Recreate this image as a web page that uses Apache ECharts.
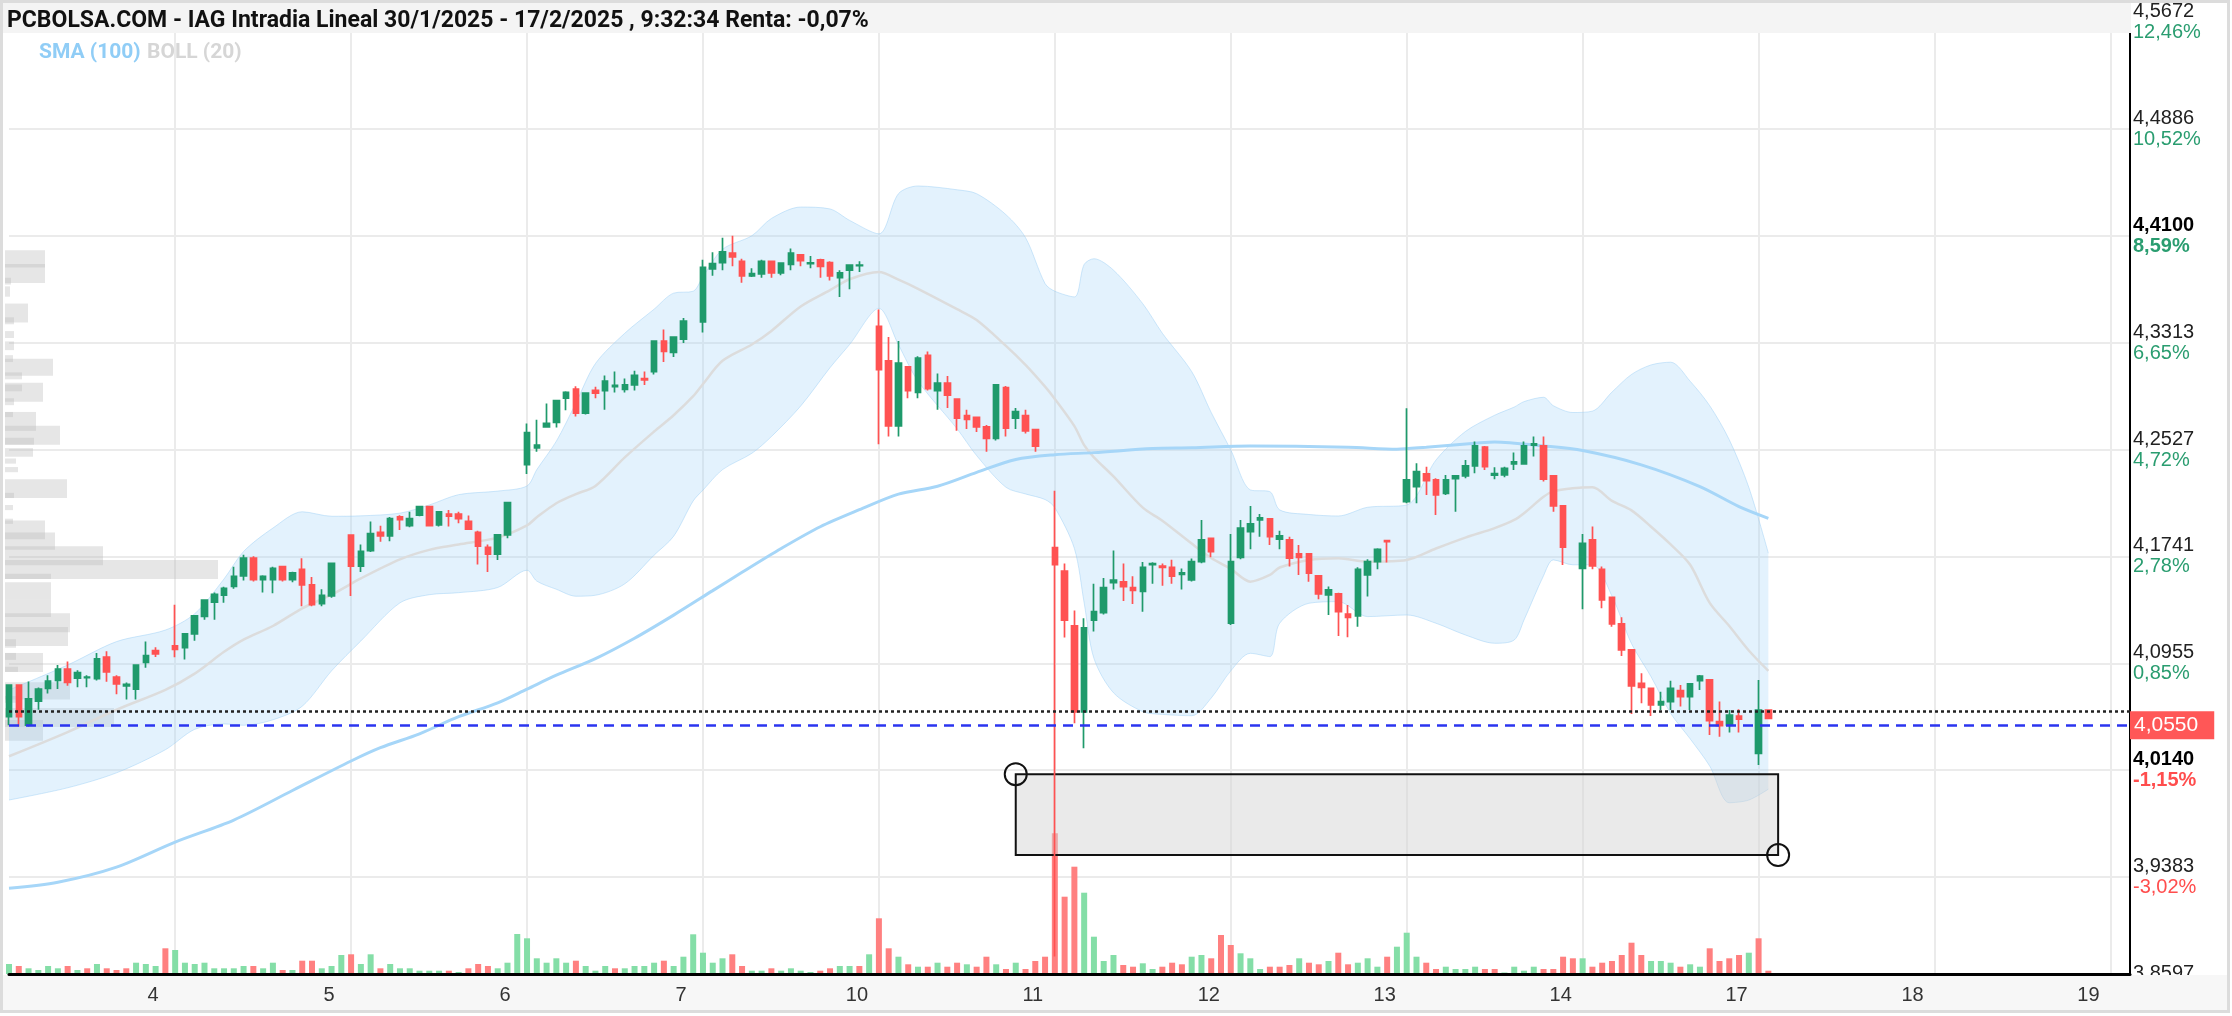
<!DOCTYPE html>
<html>
<head>
<meta charset="utf-8">
<title>IAG Intradia</title>
<script src="https://cdn.jsdelivr.net/npm/echarts@6/dist/echarts.min.js"></script>
<style>
html, body { margin: 0; padding: 0; background: #fff; }
#chart { width: 2232px; height: 1016px; }
</style>
</head>
<body>
<div id="chart"></div>
<script>
// sesiones (el dia 3 se ve desde las 9:30, el resto de 9:00 a 17:30, velas de 30 min)
const days = ['3', '4', '5', '6', '7', '10', '11', '12', '13', '14', '17', '18', '19'];
const slotsPerDay = 18;
const slotCount = 218;

// velas [apertura, maximo, minimo, cierre]; null = subasta de cierre sin rango visible
const s03 = [
  [4.0563, 4.0800, 4.0500, 4.0796], [4.0796, 4.0800, 4.0490, 4.0563], [4.0500, 4.0822, 4.0490, 4.0695],
  [4.0677, 4.0778, 4.0614, 4.0766], [4.0771, 4.0867, 4.0733, 4.0824], [4.0829, 4.0943, 4.0766, 4.0913],
  [4.0913, 4.0968, 4.0790, 4.0816], [4.0847, 4.0905, 4.0780, 4.0887], [4.0850, 4.0867, 4.0780, 4.0855],
  [4.0842, 4.1032, 4.0830, 4.0989], [4.1001, 4.1044, 4.0820, 4.0892], [4.0855, 4.0867, 4.0728, 4.0804],
  [4.0790, 4.0815, 4.0690, 4.0800], [4.0766, 4.0943, 4.0690, 4.0943], [4.0963, 4.1115, 4.0923, 4.1013],
  [4.1049, 4.1074, 4.1001, 4.1024], null
];
const s04 = [
  [4.1083, 4.1387, 4.1000, 4.1058], [4.1071, 4.1172, 4.0983, 4.1172], [4.1172, 4.1304, 4.1121, 4.1304],
  [4.1301, 4.1425, 4.1276, 4.1420], [4.1405, 4.1476, 4.1276, 4.1463], [4.1456, 4.1519, 4.1400, 4.1506],
  [4.1522, 4.1666, 4.1504, 4.1595], [4.1598, 4.1754, 4.1565, 4.1729], [4.1729, 4.1742, 4.1557, 4.1570],
  [4.1570, 4.1603, 4.1476, 4.1595], [4.1570, 4.1666, 4.1471, 4.1653], [4.1666, 4.1670, 4.1557, 4.1570],
  [4.1570, 4.1628, 4.1552, 4.1620], [4.1646, 4.1729, 4.1375, 4.1532], [4.1532, 4.1590, 4.1375, 4.1387],
  [4.1395, 4.1501, 4.1375, 4.1456], [4.1451, 4.1691, 4.1438, 4.1691], null
];
const s05 = [
  [4.1898, 4.1901, 4.1450, 4.1670], [4.1670, 4.1830, 4.1627, 4.1779], [4.1784, 4.1999, 4.1774, 4.1910],
  [4.1918, 4.1968, 4.1849, 4.1893], [4.1893, 4.2032, 4.1854, 4.2019], [4.2032, 4.2045, 4.1936, 4.2012],
  [4.1968, 4.2070, 4.1956, 4.2019], [4.2045, 4.2113, 4.2037, 4.2108], [4.2108, 4.2113, 4.1961, 4.1968],
  [4.1973, 4.2075, 4.1961, 4.2070], [4.2052, 4.2083, 4.1961, 4.2037], [4.2052, 4.2070, 4.1986, 4.2019],
  [4.1999, 4.2042, 4.1936, 4.1943], [4.1918, 4.1930, 4.1682, 4.1817], [4.1809, 4.1830, 4.1627, 4.1758],
  [4.1758, 4.1905, 4.1716, 4.1900], [4.1900, 4.2138, 4.1875, 4.2138], null
];
const s06 = [
  [4.2417, 4.2720, 4.2348, 4.2652], [4.2540, 4.2746, 4.2512, 4.2560], [4.2695, 4.2867, 4.2695, 4.2720],
  [4.2728, 4.2892, 4.2690, 4.2887], [4.2905, 4.2956, 4.2817, 4.2948], [4.2973, 4.2994, 4.2771, 4.2796],
  [4.2796, 4.2948, 4.2786, 4.2943], [4.2963, 4.2989, 4.2905, 4.2943], [4.2961, 4.3073, 4.2820, 4.3031],
  [4.2990, 4.3101, 4.2947, 4.3000], [4.2970, 4.3051, 4.2947, 4.3003], [4.3003, 4.3107, 4.2961, 4.3073],
  [4.3050, 4.3101, 4.3003, 4.3040], [4.3101, 4.3332, 4.3079, 4.3326], [4.3326, 4.3411, 4.3172, 4.3250],
  [4.3242, 4.3360, 4.3208, 4.3354], [4.3340, 4.3495, 4.3312, 4.3473], null
];
const s07 = [
  [4.3467, 4.3923, 4.3388, 4.3867], [4.3856, 4.3979, 4.3805, 4.3895], [4.3903, 4.4086, 4.3847, 4.3982],
  [4.3973, 4.4100, 4.3875, 4.3945], [4.3912, 4.3931, 4.3754, 4.3805], [4.3805, 4.3861, 4.3796, 4.3822],
  [4.3819, 4.3923, 4.3791, 4.3912], [4.3912, 4.3912, 4.3791, 4.3827], [4.3827, 4.3903, 4.3810, 4.3898],
  [4.3889, 4.4007, 4.3847, 4.3973], [4.3959, 4.3965, 4.3875, 4.3917], [4.3895, 4.3951, 4.3861, 4.3900],
  [4.3923, 4.3931, 4.3791, 4.3875], [4.3903, 4.3912, 4.3771, 4.3805], [4.3791, 4.3847, 4.3650, 4.3827],
  [4.3847, 4.3889, 4.3706, 4.3884], [4.3880, 4.3912, 4.3833, 4.3885], null
];
const s10 = [
  [4.3433, 4.3557, 4.2567, 4.3115], [4.3180, 4.3355, 4.2623, 4.2702], [4.2702, 4.3326, 4.2623, 4.3163],
  [4.3135, 4.3135, 4.2905, 4.2961], [4.2947, 4.3214, 4.2905, 4.3200], [4.3220, 4.3248, 4.2961, 4.2975],
  [4.2961, 4.3087, 4.2820, 4.3017], [4.3017, 4.3068, 4.2834, 4.2927], [4.2899, 4.2899, 4.2665, 4.2758],
  [4.2778, 4.2820, 4.2679, 4.2750], [4.2764, 4.2764, 4.2657, 4.2694], [4.2694, 4.2708, 4.2511, 4.2609],
  [4.2609, 4.3003, 4.2595, 4.3003], [4.2983, 4.2995, 4.2623, 4.2685], [4.2758, 4.2834, 4.2679, 4.2806],
  [4.2778, 4.2820, 4.2646, 4.2665], [4.2674, 4.2679, 4.2511, 4.2553], null
];
const s11 = [
  [4.1807, 4.2224, 3.8800, 4.1681], [4.1633, 4.1689, 4.1146, 4.1273], [4.1231, 4.1343, 4.0514, 4.0598],
  [4.0598, 4.1287, 4.0331, 4.1217], [4.1273, 4.1540, 4.1189, 4.1335], [4.1329, 4.1582, 4.1315, 4.1512],
  [4.1549, 4.1785, 4.1498, 4.1568], [4.1554, 4.1689, 4.1414, 4.1520], [4.1512, 4.1596, 4.1391, 4.1492],
  [4.1484, 4.1700, 4.1335, 4.1661], [4.1681, 4.1698, 4.1540, 4.1689], [4.1670, 4.1689, 4.1526, 4.1660],
  [4.1661, 4.1717, 4.1540, 4.1596], [4.1610, 4.1652, 4.1498, 4.1620], [4.1569, 4.1727, 4.1557, 4.1703],
  [4.1703, 4.2010, 4.1691, 4.1863], [4.1875, 4.1875, 4.1735, 4.1777], null
];
const s12 = [
  [4.1250, 4.1907, 4.1237, 4.1703], [4.1735, 4.2010, 4.1721, 4.1949], [4.1924, 4.2113, 4.1794, 4.1981],
  [4.2010, 4.2054, 4.1887, 4.2025], [4.2018, 4.2020, 4.1826, 4.1887], [4.1868, 4.1931, 4.1794, 4.1892],
  [4.1863, 4.1887, 4.1667, 4.1728], [4.1760, 4.1826, 4.1605, 4.1735], [4.1760, 4.1765, 4.1556, 4.1618],
  [4.1598, 4.1598, 4.1426, 4.1466], [4.1458, 4.1520, 4.1311, 4.1495], [4.1466, 4.1475, 4.1157, 4.1336],
  [4.1318, 4.1385, 4.1147, 4.1294], [4.1304, 4.1662, 4.1225, 4.1647], [4.1605, 4.1721, 4.1446, 4.1703],
  [4.1703, 4.1801, 4.1647, 4.1794], [4.1858, 4.1863, 4.1696, 4.1850], null
];
const s13 = [
  [4.2145, 4.2831, 4.2133, 4.2304], [4.2255, 4.2427, 4.2133, 4.2365], [4.2348, 4.2402, 4.2194, 4.2299],
  [4.2304, 4.2316, 4.2047, 4.2194], [4.2206, 4.2341, 4.2194, 4.2304], [4.2314, 4.2341, 4.2071, 4.2334],
  [4.2334, 4.2451, 4.2316, 4.2407], [4.2407, 4.2586, 4.2353, 4.2554], [4.2545, 4.2554, 4.2378, 4.2402],
  [4.2340, 4.2397, 4.2309, 4.2350], [4.2341, 4.2402, 4.2324, 4.2390], [4.2422, 4.2505, 4.2378, 4.2437],
  [4.2422, 4.2586, 4.2415, 4.2554], [4.2560, 4.2623, 4.2476, 4.2570], [4.2554, 4.2623, 4.2292, 4.2309],
  [4.2334, 4.2334, 4.2071, 4.2113], [4.2113, 4.2113, 4.1679, 4.1809], null
];
const s14 = [
  [4.1654, 4.1907, 4.1353, 4.1838], [4.1863, 4.1961, 4.1647, 4.1672], [4.1647, 4.1667, 4.1360, 4.1421],
  [4.1441, 4.1441, 4.1225, 4.1245], [4.1245, 4.1294, 4.1009, 4.1054], [4.1054, 4.1059, 4.0583, 4.0789],
  [4.0808, 4.0882, 4.0661, 4.0779], [4.0772, 4.0772, 4.0568, 4.0649], [4.0649, 4.0747, 4.0612, 4.0674],
  [4.0674, 4.0828, 4.0612, 4.0772], [4.0755, 4.0796, 4.0637, 4.0710], [4.0710, 4.0808, 4.0612, 4.0804],
  [4.0828, 4.0870, 4.0759, 4.0862], [4.0833, 4.0833, 4.0428, 4.0534], [4.0526, 4.0674, 4.0416, 4.0497],
  [4.0502, 4.0612, 4.0446, 4.0575], [4.0568, 4.0617, 4.0446, 4.0544], null
];
const s17 = [
  [4.0293, 4.0833, 4.0208, 4.0612], [4.0612, 4.0612, 4.0545, 4.0550]
];

// volumen (miles de titulos) por vela
const volumes = [
  100, 80, 57, 40, 80, 57, 80, 40, 57, 100, 57, 40, 57, 113, 100, 80, 257,
  240, 113, 100, 113, 57, 57, 57, 80, 80, 57, 113, 40, 40, 133, 133, 57, 80, 190,
  197, 100, 197, 57, 100, 57, 57, 33, 33, 33, 33, 20, 57, 100, 80, 57, 113, 400,
  357, 157, 113, 157, 113, 133, 80, 33, 80, 57, 57, 80, 80, 113, 133, 80, 173, 397,
  213, 113, 157, 197, 80, 33, 33, 57, 33, 57, 33, 20, 33, 57, 80, 80, 80, 197,
  557, 257, 173, 97, 73, 73, 113, 73, 113, 97, 73, 173, 97, 50, 113, 50, 130, 173,
  1407, 773, 1073, 813, 373, 130, 190, 90, 73, 107, 50, 73, 113, 97, 173, 190, 157, 390,
  290, 207, 157, 50, 73, 73, 90, 157, 113, 97, 130, 213, 97, 113, 157, 73, 173, 273,
  413, 173, 113, 50, 73, 50, 50, 73, 50, 50, 15, 73, 33, 73, 50, 50, 173, 157,
  157, 73, 113, 130, 190, 313, 190, 130, 130, 113, 73, 97, 73, 257, 130, 157, 190, 213,
  357, 33
];
// color del volumen: u = sube, d = baja
const volDir = (
  'u d u u u u d u d u d d d u u u d ' +
  'u u u u u u u u d u u d u d d u u u ' +
  'd u u d u u u u u u d u d d d u u u ' +
  'u u u u u d u u u d u u u u d u u u ' +
  'u u u d d u u d u u u u d d u u d u ' +
  'd d u d u d u d d u d d u d u d d d ' +
  'd d d u u u u d d u u d d d u u d d ' +
  'd u u u d d d u d d u d d u u u d u ' +
  'u u d d u u u u d d u u u u d d d d ' +
  'u d d d d d d u u u d u u d d d d u ' +
  'd d'
).split(' ');

const prevClose = 4.0580;
const lastPrice = 4.0550;

// eje de precios
const tickMin = 3.8597;
const tickMax = 4.5672;
const priceTicks = ['3,8597', '3,9383', '4,0140', '4,0955', '4,1741', '4,2527', '4,3313', '4,4100', '4,4886', '4,5672'];
const pctTicks = ['-4,96%', '-3,02%', '-1,15%', '0,85%', '2,78%', '4,72%', '6,65%', '8,59%', '10,52%', '12,46%'];
const boldTicks = [2, 7];

// Bollinger (20)
const bollIdx = [0, 6, 11, 16, 19, 22, 24, 27, 30, 33, 36, 40, 43, 46, 50, 53, 54, 56, 58, 60,
  63, 66, 68, 70, 71, 73, 76, 78, 81, 84, 86, 89, 91, 93, 97, 99, 102, 104, 106, 107,
  109, 110, 111, 113, 116, 118, 121, 123, 125, 127, 129, 130, 133, 136, 139, 143, 146, 149, 152, 154,
  155, 157, 158, 160, 162, 164, 166, 168, 170, 172, 174, 176, 178, 180];
const bollUpper = [4.0759, 4.0943, 4.1115, 4.1200, 4.1320, 4.1576, 4.1778, 4.1950, 4.2070, 4.2037,
  4.2040, 4.2060, 4.2120, 4.2196, 4.2222, 4.2260, 4.2380, 4.2589, 4.2870, 4.3160,
  4.3383, 4.3560, 4.3678, 4.3692, 4.3800, 4.4000, 4.4100, 4.4227, 4.4311, 4.4297,
  4.4213, 4.4114, 4.4409, 4.4466, 4.4438, 4.4409, 4.4255, 4.4086, 4.3748, 4.3692,
  4.3650, 4.3889, 4.3931, 4.3847, 4.3600, 4.3383, 4.3101, 4.2800, 4.2525, 4.2231,
  4.2218, 4.2084, 4.2050, 4.2039, 4.2103, 4.2120, 4.2451, 4.2660, 4.2780, 4.2840,
  4.2880, 4.2912, 4.2850, 4.2800, 4.2810, 4.2950, 4.3080, 4.3150, 4.3170, 4.3030,
  4.2850, 4.2600, 4.2250, 4.1765];
const bollMid = [4.0272, 4.0450, 4.0614, 4.0760, 4.0880, 4.1040, 4.1130, 4.1230, 4.1360, 4.1460,
  4.1580, 4.1720, 4.1790, 4.1829, 4.1880, 4.1970, 4.2030, 4.2133, 4.2200, 4.2260,
  4.2470, 4.2660, 4.2780, 4.2920, 4.3010, 4.3180, 4.3300, 4.3400, 4.3580, 4.3700,
  4.3780, 4.3833, 4.3777, 4.3710, 4.3560, 4.3480, 4.3290, 4.3150, 4.2990, 4.2900,
  4.2700, 4.2560, 4.2470, 4.2330, 4.2100, 4.2004, 4.1836, 4.1730, 4.1650, 4.1556,
  4.1605, 4.1660, 4.1716, 4.1728, 4.1703, 4.1716, 4.1800, 4.1880, 4.1950, 4.2010,
  4.2059, 4.2180, 4.2220, 4.2243, 4.2250, 4.2150, 4.2080, 4.1960, 4.1830, 4.1680,
  4.1400, 4.1230, 4.1050, 4.0900];
const bollLower = [3.9950, 4.0040, 4.0150, 4.0320, 4.0470, 4.0510, 4.0500, 4.0540, 4.0640, 4.0900,
  4.1120, 4.1400, 4.1460, 4.1475, 4.1513, 4.1640, 4.1560, 4.1500, 4.1449, 4.1456,
  4.1540, 4.1751, 4.1890, 4.2150, 4.2229, 4.2380, 4.2500, 4.2623, 4.2848, 4.3130,
  4.3300, 4.3566, 4.3298, 4.3031, 4.2680, 4.2483, 4.2250, 4.2201, 4.2160, 4.2100,
  4.1800, 4.1400, 4.0992, 4.0739, 4.0600, 4.0580, 4.0570, 4.0700, 4.0900, 4.1029,
  4.1005, 4.1250, 4.1397, 4.1409, 4.1299, 4.1311, 4.1250, 4.1164, 4.1103, 4.1127,
  4.1274, 4.1600, 4.1716, 4.1680, 4.1680, 4.1450, 4.1100, 4.0857, 4.0588, 4.0400,
  4.0200, 3.9930, 3.9950, 4.0030];

// SMA (100)
const smaIdx = [0, 5, 11, 17, 23, 29, 35, 38, 42, 46, 50, 53, 56, 60, 64, 68, 72, 75, 79, 83,
  87, 91, 95, 99, 103, 107, 111, 117, 121, 127, 137, 142, 145, 150, 152, 157, 161, 167, 173, 177, 180];
const smaVal = [3.9302, 3.9346, 3.9457, 3.9641, 3.9803, 4.0020, 4.0237, 4.0335, 4.0437, 4.0563,
  4.0665, 4.0766, 4.0868, 4.0990, 4.1140, 4.1310, 4.1490, 4.1625, 4.1800, 4.1960,
  4.2085, 4.2200, 4.2258, 4.2360, 4.2455, 4.2490, 4.2505, 4.2535, 4.2540, 4.2554,
  4.2545, 4.2530, 4.2545, 4.2574, 4.2584, 4.2554, 4.2520, 4.2415, 4.2255, 4.2108, 4.2022];

// perfil de volumen por precio: [precio bajo, precio alto, volumen]
const profile = [
  [4.3867, 4.3994, 40], [4.3753, 4.3892, 40], [4.3741, 4.3791, 6], [4.3652, 4.3728, 5],
  [4.3462, 4.3601, 23], [4.3449, 4.3500, 9], [4.3348, 4.3399, 9], [4.3259, 4.3323, 9],
  [4.3171, 4.3222, 8], [4.3070, 4.3196, 48], [4.3044, 4.3095, 17], [4.2956, 4.3006, 17],
  [4.2880, 4.3019, 38], [4.2854, 4.2905, 9], [4.2766, 4.2804, 8], [4.2665, 4.2804, 31],
  [4.2563, 4.2703, 55], [4.2563, 4.2614, 29], [4.2475, 4.2538, 28], [4.2424, 4.2462, 11],
  [4.2361, 4.2399, 13], [4.2171, 4.2310, 62], [4.2171, 4.2209, 9], [4.2082, 4.2120, 8],
  [4.1981, 4.2019, 8], [4.1867, 4.2006, 40], [4.1791, 4.1918, 50], [4.1677, 4.1816, 98],
  [4.1576, 4.1715, 213], [4.1576, 4.1614, 46], [4.1424, 4.1551, 46], [4.1297, 4.1424, 46],
  [4.1184, 4.1323, 65], [4.1082, 4.1222, 63], [4.1070, 4.1133, 11], [4.0981, 4.1032, 11],
  [4.0892, 4.1032, 38], [4.0892, 4.0930, 13], [4.0690, 4.0816, 65], [4.0665, 4.0715, 13],
  [4.0487, 4.0627, 109], [4.0386, 4.0538, 38]
];

// zona dibujada: [vela inicio, precio arriba, vela fin, precio abajo]
const zone = [103, 4.0140, 181, 3.9545];

const upColor = '#1f9a6b';
const downColor = '#ff5252';

const categories = [];
days.forEach((d, di) => {
  for (let s = di === 0 ? 1 : 0; s < slotsPerDay; s++) {
    const m = 9 * 60 + s * 30;
    categories.push(d + ' ' + String(Math.floor(m / 60)).padStart(2, '0') + ':' + String(m % 60).padStart(2, '0'));
  }
});
categories.length = slotCount;

const isDayStart = (i) => i >= 17 && (i - 17) % slotsPerDay === 0;

const candles = [].concat(s03, s04, s05, s06, s07, s10, s11, s12, s13, s14, s17);
const candleData = candles.map(c => c ? [c[0], c[3], c[2], c[1]] : '-');
const volData = volumes.map((v, i) => ({
  value: v,
  itemStyle: { color: volDir[i] === 'u' ? '#84dea7' : '#ff8080' }
}));

const tickStep = (tickMax - tickMin) / 9;

const chart = echarts.init(document.getElementById('chart'));
chart.setOption({
  animation: false,
  backgroundColor: '#fff',
  grid: [
    { left: 9, right: 102, top: 22, bottom: 32, outerBoundsMode: 'none' },
    { left: 9, right: 102, bottom: 42, height: 300, outerBoundsMode: 'none' }
  ],
  xAxis: [
    {
      type: 'category', gridIndex: 0, data: categories, boundaryGap: false,
      axisLine: { show: false }, axisTick: { show: false }, axisLabel: { show: false },
      splitLine: { show: true, interval: (i) => isDayStart(i), lineStyle: { color: '#ebebeb', width: 2 } }
    },
    { type: 'value', gridIndex: 0, min: 4, max: 2125, show: false },
    {
      type: 'category', gridIndex: 1, data: categories, boundaryGap: false, z: 150,
      axisLine: { show: true, lineStyle: { color: '#000', width: 3 } },
      axisTick: { show: false },
      splitLine: { show: false },
      axisLabel: {
        interval: (i) => isDayStart(i),
        formatter: (v) => v.split(' ')[0],
        color: '#333', fontSize: 20, fontFamily: 'Liberation Sans',
        margin: 11, padding: [0, 44, 0, 0]
      }
    }
  ],
  yAxis: [
    {
      type: 'value', gridIndex: 0, position: 'right', min: tickMin, max: tickMax, interval: tickStep,
      axisLine: { show: true, lineStyle: { color: '#000', width: 2 } },
      axisTick: { show: false },
      splitLine: { lineStyle: { color: '#ebebeb', width: 2 } },
      axisLabel: {
        margin: 3,
        formatter: (v) => {
          const k = Math.round((v - tickMin) / tickStep);
          const b = boldTicks.indexOf(k) >= 0 ? 'b' : '';
          const neg = pctTicks[k].charAt(0) === '-';
          return '{p' + b + '|' + priceTicks[k] + '}\n{' + (neg ? 'r' : 'g') + b + '|' + pctTicks[k] + '}';
        },
        rich: {
          p: { color: '#222', fontSize: 20, lineHeight: 21, fontFamily: 'Liberation Sans' },
          pb: { color: '#000', fontSize: 20, lineHeight: 21, fontFamily: 'Liberation Sans', fontWeight: 'bold' },
          g: { color: '#2a9d70', fontSize: 20, lineHeight: 21, fontFamily: 'Liberation Sans' },
          gb: { color: '#2a9d70', fontSize: 20, lineHeight: 21, fontFamily: 'Liberation Sans', fontWeight: 'bold' },
          r: { color: '#ff4d4d', fontSize: 20, lineHeight: 21, fontFamily: 'Liberation Sans' },
          rb: { color: '#ff4d4d', fontSize: 20, lineHeight: 21, fontFamily: 'Liberation Sans', fontWeight: 'bold' }
        }
      }
    },
    { type: 'value', gridIndex: 1, min: 0, max: 3000, show: false }
  ],
  series: [
    {
      name: 'perfil', type: 'custom', xAxisIndex: 1, yAxisIndex: 0, z: 1,
      dimensions: ['lo', 'hi', 'vol'],
      encode: { x: 'vol', y: ['lo', 'hi'] },
      data: profile,
      renderItem: (params, api) => {
        const a = api.coord([0, api.value(1)]);
        const b = api.coord([api.value(2), api.value(0)]);
        return {
          type: 'rect',
          shape: { x: a[0], y: a[1], width: b[0] - a[0], height: b[1] - a[1] },
          style: { fill: 'rgba(185,185,185,0.36)' }
        };
      }
    },
    {
      name: 'boll inf', type: 'line', xAxisIndex: 0, yAxisIndex: 0, stack: 'boll', z: 2,
      smooth: 0.3, symbol: 'none',
      lineStyle: { color: 'rgba(150,205,245,0.45)', width: 1 },
      data: bollIdx.map((x, k) => [x, bollLower[k]])
    },
    {
      name: 'boll sup', type: 'line', xAxisIndex: 0, yAxisIndex: 0, stack: 'boll', z: 2,
      smooth: 0.3, symbol: 'none',
      lineStyle: { color: 'rgba(150,205,245,0.45)', width: 1 },
      areaStyle: { color: 'rgba(160,212,247,0.42)' },
      data: bollIdx.map((x, k) => [x, +(bollUpper[k] - bollLower[k]).toFixed(4)])
    },
    {
      name: 'boll media', type: 'line', xAxisIndex: 0, yAxisIndex: 0, z: 3,
      smooth: 0.3, symbol: 'none',
      lineStyle: { color: '#dcdcdc', width: 2.5 },
      data: bollIdx.map((x, k) => [x, bollMid[k]])
    },
    {
      name: 'SMA (100)', type: 'line', xAxisIndex: 0, yAxisIndex: 0, z: 3,
      smooth: 0.3, symbol: 'none',
      lineStyle: { color: '#a6d6f8', width: 3 },
      data: smaIdx.map((x, k) => [x, smaVal[k]])
    },
    {
      name: 'zona', type: 'custom', xAxisIndex: 0, yAxisIndex: 0, z: 3,
      dimensions: ['x0', 'y0', 'x1', 'y1'],
      encode: { x: ['x0', 'x1'], y: ['y0', 'y1'] },
      data: [zone],
      renderItem: (params, api) => {
        const p0 = api.coord([api.value(0), api.value(1)]);
        const p1 = api.coord([api.value(2), api.value(3)]);
        return {
          type: 'group',
          children: [
            {
              type: 'rect',
              shape: { x: p0[0], y: p0[1], width: p1[0] - p0[0], height: p1[1] - p0[1] },
              style: { fill: 'rgba(212,212,212,0.48)', stroke: '#111', lineWidth: 2 }
            },
            { type: 'circle', shape: { cx: p0[0], cy: p0[1], r: 11 }, style: { fill: 'transparent', stroke: '#111', lineWidth: 2 } },
            { type: 'circle', shape: { cx: p1[0], cy: p1[1], r: 11 }, style: { fill: 'transparent', stroke: '#111', lineWidth: 2 } }
          ]
        };
      }
    },
    {
      name: 'IAG', type: 'candlestick', xAxisIndex: 0, yAxisIndex: 0, z: 5,
      barWidth: 6, clip: false,
      data: candleData,
      itemStyle: { color: upColor, color0: downColor, borderColor: upColor, borderColor0: downColor, borderWidth: 1.7 },
      markLine: {
        silent: true, symbol: ['none', 'none'], z: 6,
        data: [
          { yAxis: prevClose, lineStyle: { color: '#222', type: [3, 3], width: 2.5 }, label: { show: false } },
          {
            yAxis: lastPrice,
            lineStyle: { color: '#2b35f0', type: [10, 7], width: 2.5 },
            label: {
              show: true, position: 'end', distance: 0,
              formatter: () => lastPrice.toFixed(4).replace('.', ','),
              color: '#fff', backgroundColor: '#ff5757', fontSize: 21, fontFamily: 'Liberation Sans',
              padding: [4, 16, 3, 4]
            }
          }
        ]
      }
    },
    {
      name: 'volumen', type: 'bar', xAxisIndex: 2, yAxisIndex: 1, z: 2,
      barWidth: 6, clip: false,
      data: volData
    }
  ],
  graphic: [
    { type: 'rect', z: 99, silent: true, shape: { x: 3, y: 3, width: 2128, height: 30 }, style: { fill: '#f4f4f4' } },
    { type: 'rect', z: 99, silent: true, shape: { x: 3, y: 975, width: 2225, height: 35 }, style: { fill: '#f7f7f7' } },
    { type: 'rect', z: 100, silent: true, shape: { x: 1.5, y: 1.5, width: 2227, height: 1010 }, style: { fill: 'transparent', stroke: '#dcdcdc', lineWidth: 3 } },
    {
      type: 'text', z: 101, silent: true, x: 7, y: 21,
      style: {
        text: 'PCBOLSA.COM - IAG Intradia Lineal 30/1/2025 - 17/2/2025 , 9:32:34 Renta: -0,07%',
        fill: '#111', fontSize: 23, fontWeight: 'bold', fontFamily: 'Roboto', verticalAlign: 'middle'
      }
    },
    {
      type: 'text', z: 101, silent: true, x: 39, y: 53,
      style: { text: 'SMA (100)', fill: '#90cdf6', fontSize: 21, fontWeight: 'bold', fontFamily: 'Roboto', verticalAlign: 'middle' }
    },
    {
      type: 'text', z: 101, silent: true, x: 147, y: 53,
      style: { text: 'BOLL (20)', fill: '#d6d6d6', fontSize: 21, fontWeight: 'bold', fontFamily: 'Roboto', verticalAlign: 'middle' }
    }
  ]
});
</script>
</body>
</html>
